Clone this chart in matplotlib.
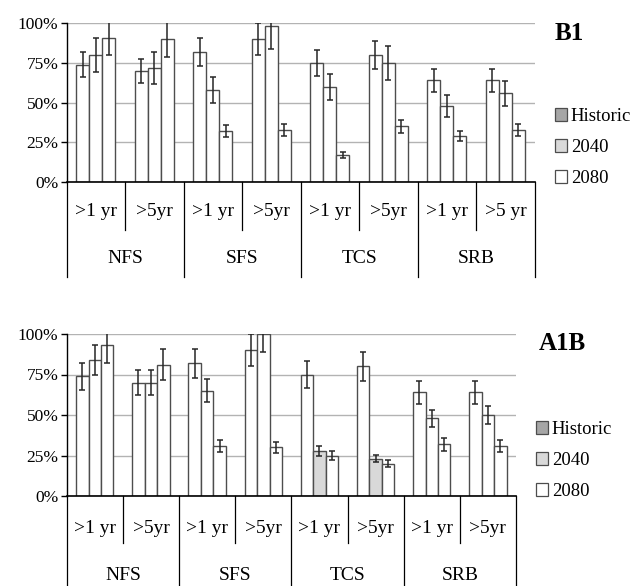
import matplotlib.pyplot as plt
from matplotlib.patches import Patch

plt.rcParams.update({
    "font.family": ["Liberation Serif", "DejaVu Serif"],
    "font.size": 12.5,
})

GROUPS = ["NFS", "SFS", "TCS", "SRB"]
SUBS_B1 = [">1 yr", ">5yr", ">1 yr", ">5yr", ">1 yr", ">5yr", ">1 yr", ">5 yr"]
SUBS_A1B = [">1 yr", ">5yr", ">1 yr", ">5yr", ">1 yr", ">5yr", ">1 yr", ">5yr"]
SERIES = ["Historic", "2040", "2080"]

# B1 scenario, fraction persisting (%)
b1_hist = [74, 70, 82, 90, 75, 80, 64, 64]
b1_2040 = [80, 72, 58, 98, 60, 75, 48, 56]
b1_2080 = [91, 90, 32, 33, 17, 35, 29, 33]
b1_hist_err = [8, 7.5, 9, 10, 8.3, 8.8, 7, 7]
b1_2040_err = [11, 10, 8, 14, 8.2, 10.5, 6.8, 7.9]
b1_2080_err = [11, 11, 3.7, 3.8, 1.8, 4, 3.4, 3.8]

# A1B scenario
a1b_hist = [74, 70, 82, 90, 75, 80, 64, 64]
a1b_2040 = [84, 70, 65, 100, 28, 23, 48, 50]
a1b_2080 = [93, 81, 31, 30, 25, 20, 32, 31]
a1b_hist_err = [8.3, 7.7, 9, 10, 8.2, 8.8, 7, 7]
a1b_2040_err = [9.4, 7.7, 7, 11, 3, 2.3, 5.3, 5.5]
a1b_2080_err = [11, 9.6, 3.8, 3.4, 2.9, 2.3, 4, 3.8]

LEGEND_FILL = {"Historic": "#a6a6a6", "2040": "#d9d9d9", "2080": "white"}
EDGE = "#4d4d4d"
W, H = 633, 586


def px_axes(left, top, right, bottom):
    return [left / W, 1 - bottom / H, (right - left) / W, (bottom - top) / H]


def draw_panel(fig, rect, vals, errs, subs, shaded, title, title_xy,
               legend_anchor, sub_line, group_line, sub_text, group_text):
    ax = fig.add_axes(rect)
    bw = 0.222
    for k, (name, v, e) in enumerate(zip(SERIES, vals, errs)):
        xs = [i + (k - 1) * bw for i in range(len(v))]
        fc = ["#d9d9d9" if (name, i // 2) in shaded else "white" for i in range(len(v))]
        ax.bar(xs, [x / 100 for x in v], bw, color=fc, edgecolor=EDGE,
               linewidth=1.0, zorder=2)
        ax.errorbar(xs, [x / 100 for x in v], yerr=[x / 100 for x in e],
                    fmt="none", ecolor="#262626", elinewidth=1.1,
                    capsize=2.3, capthick=1.1, zorder=3)
    ax.set_xlim(-0.5, len(subs) - 0.5)
    ax.set_ylim(0, 1)
    ax.set_yticks([0, 0.25, 0.5, 0.75, 1.0])
    ax.set_yticklabels(["0%", "25%", "50%", "75%", "100%"])
    ax.yaxis.grid(True, color="#b3b3b3", linewidth=1.0)
    ax.set_axisbelow(True)
    ax.set_xticks([])
    for s in ("top", "right"):
        ax.spines[s].set_visible(False)
    ax.spines["left"].set_linewidth(1.0)
    ax.spines["bottom"].set_linewidth(1.2)
    ax.tick_params(axis="y", length=4, width=1.0, pad=2)

    # two-level category axis drawn under the plot
    tr = ax.get_xaxis_transform()
    for b in range(len(subs) + 1):
        x = b - 0.5
        y1 = group_line if b % 2 == 0 else sub_line
        ax.plot([x, x], [0, y1], color="black", lw=0.9, transform=tr, clip_on=False)
    for i, lab in enumerate(subs):
        ax.text(i, sub_text, lab, transform=tr, ha="center", va="center", fontsize=14)
    for g, lab in enumerate(GROUPS):
        ax.text(2 * g + 0.5, group_text, lab, transform=tr, ha="center",
                va="center", fontsize=14)

    fig.text(title_xy[0] / W, 1 - title_xy[1] / H, title, fontsize=18,
             fontweight="bold", va="center", ha="left")
    handles = [Patch(facecolor=LEGEND_FILL[n], edgecolor=EDGE, linewidth=0.9)
               for n in SERIES]
    fig.legend(handles, SERIES, loc="upper left",
               bbox_to_anchor=(legend_anchor[0] / W, 1 - legend_anchor[1] / H),
               frameon=False, fontsize=13.5, handlelength=0.65, handleheight=0.65,
               handletextpad=0.2, labelspacing=0.75, borderpad=0, borderaxespad=0)
    return ax


fig = plt.figure(figsize=(W / 100, H / 100), dpi=100)

draw_panel(fig, px_axes(66.7, 23.3, 534.7, 182),
           [b1_hist, b1_2040, b1_2080], [b1_hist_err, b1_2040_err, b1_2080_err],
           SUBS_B1, set(), "B1", (555, 33), (555, 108),
           sub_line=-0.302, group_line=-0.599, sub_text=-0.187, group_text=-0.479)

draw_panel(fig, px_axes(66.7, 334, 516, 496),
           [a1b_hist, a1b_2040, a1b_2080], [a1b_hist_err, a1b_2040_err, a1b_2080_err],
           SUBS_A1B, {("2040", 2)}, "A1B", (539, 343), (536, 421),
           sub_line=-0.290, group_line=-0.56, sub_text=-0.198, group_text=-0.488)

fig.savefig("out.png", dpi=100)
